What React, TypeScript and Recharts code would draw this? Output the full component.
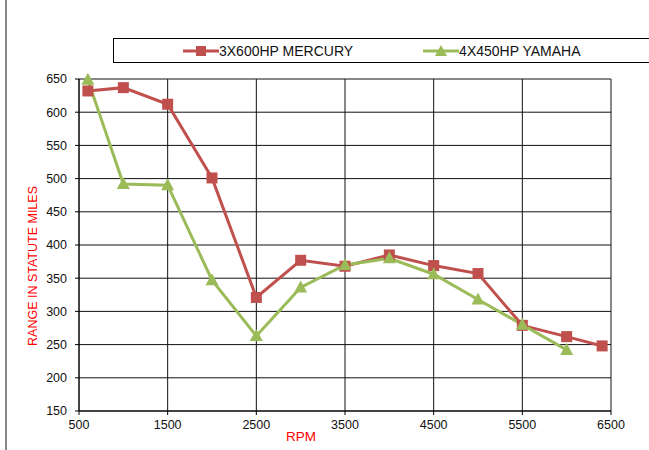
import { LineChart, Line, XAxis, YAxis, CartesianGrid, Legend } from "recharts"

const rpm = [600, 1000, 1500, 2000, 2500, 3000, 3500, 4000, 4500, 5000, 5500, 6000, 6400]
const mercury = [632, 637, 612, 501, 321, 377, 368, 385, 369, 357, 279, 262, 248]
const yamaha = [649, 492, 490, 347, 263, 336, 370, 380, 356, 318, 280, 242, null]
const xTicks = [500, 1500, 2500, 3500, 4500, 5500, 6500]
const yTicks = [150, 200, 250, 300, 350, 400, 450, 500, 550, 600, 650]

const RED = "#C0504D"
const GREEN = "#9BBB59"

const data = rpm.map((r, i) => ({ rpm: r, mercury: mercury[i], yamaha: yamaha[i] }))

const Square = (props: any) => {
  const { cx, cy } = props
  if (cx == null || cy == null) return null
  return <rect x={cx - 5.5} y={cy - 5.5} width={11} height={11} fill={RED} />
}

const Triangle = (props: any) => {
  const { cx, cy } = props
  if (cx == null || cy == null) return null
  return <polygon points={`${cx},${cy - 7} ${cx - 6.5},${cy + 5} ${cx + 6.5},${cy + 5}`} fill={GREEN} />
}

function LegendBox() {
  const item = (color: string, label: string, square: boolean, gap: number) => (
    <span style={{ display: "inline-flex", alignItems: "center", marginRight: gap }}>
      <svg width={36} height={12} style={{ marginRight: 0 }}>
        <line x1={0} y1={6} x2={36} y2={6} stroke={color} strokeWidth={3} />
        {square ? (
          <rect x={13} y={1} width={10} height={10} fill={color} />
        ) : (
          <polygon points="18,0 12,11 24,11" fill={color} />
        )}
      </svg>
      {label}
    </span>
  )
  return (
    <div
      style={{
        boxSizing: "border-box",
        width: 545,
        height: 25,
        border: "1px solid #000",
        display: "flex",
        alignItems: "center",
        paddingLeft: 69,
        fontSize: 14,
        color: "#111",
        fontFamily: "Liberation Sans, Arial, sans-serif",
      }}
    >
      {item(RED, "3X600HP MERCURY", true, 70)}
      {item(GREEN, "4X450HP YAMAHA", false, 0)}
    </div>
  )
}

export default function App() {
  return (
    <div
      style={{
        position: "absolute",
        left: 0,
        top: 0,
        width: 649,
        height: 450,
        background: "#fff",
        overflow: "hidden",
        fontFamily: "Liberation Sans, Arial, sans-serif",
      }}
    >
      <div style={{ position: "absolute", left: 5, top: 0, width: 2, height: 450, background: "#888" }} />
      <LineChart width={649} height={450} data={data} margin={{ top: 54, right: 38, bottom: 0, left: 0 }}>
        <CartesianGrid stroke="#111" strokeWidth={1} />
        <XAxis
          dataKey="rpm"
          type="number"
          domain={[500, 6500]}
          ticks={xTicks}
          height={39}
          stroke="#000"
          tickSize={4}
          tickMargin={5}
          tick={{ fontSize: 12.5, fill: "#111" }}
          label={{ value: "RPM", position: "insideBottom", offset: 9, dx: -44, fill: "#FF0000", fontSize: 13.5 }}
        />
        <YAxis
          type="number"
          domain={[150, 650]}
          ticks={yTicks}
          width={79}
          stroke="#000"
          tickSize={4}
          tickMargin={8}
          tick={{ fontSize: 12.5, fill: "#111" }}
          label={{ value: "RANGE IN STATUTE MILES", angle: -90, position: "center", dx: -7, dy: 21, fill: "#FF0000", fontSize: 12.5 }}
        />
        <Legend
          verticalAlign="top"
          content={() => <LegendBox />}
          wrapperStyle={{ position: "absolute", top: 38, left: 113, width: 545 }}
        />
        <Line
          dataKey="mercury"
          name="3X600HP MERCURY"
          stroke={RED}
          strokeWidth={3}
          dot={<Square />}
          activeDot={false}
          isAnimationActive={false}
        />
        <Line
          dataKey="yamaha"
          name="4X450HP YAMAHA"
          stroke={GREEN}
          strokeWidth={3}
          dot={<Triangle />}
          activeDot={false}
          isAnimationActive={false}
        />
      </LineChart>
    </div>
  )
}
